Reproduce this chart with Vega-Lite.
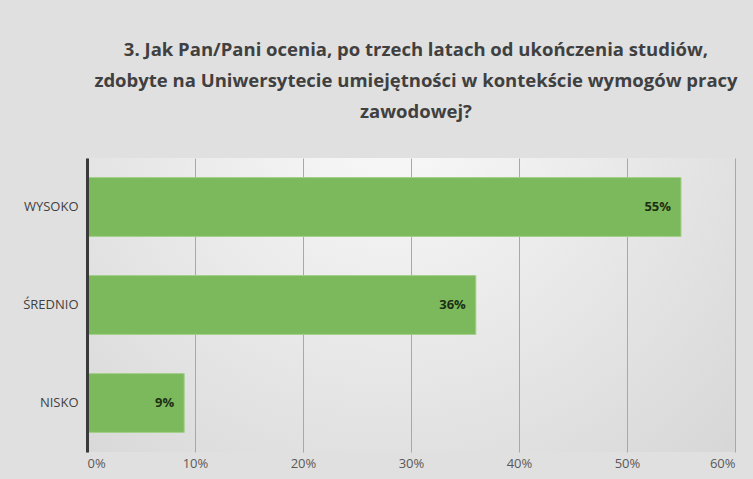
{
  "$schema": "https://vega.github.io/schema/vega-lite/v6.json",
  "width": 648,
  "height": 294,
  "autosize": {"type": "none"},
  "padding": {"left": 87, "top": 158, "right": 18, "bottom": 27},
  "background": "#e0e0e0",
  "config": {
    "view": {
      "stroke": null,
      "fill": {
        "gradient": "radial",
        "x1": 0.47, "y1": 0.2, "r1": 0,
        "x2": 0.47, "y2": 0.2, "r2": 0.85,
        "stops": [
          {"offset": 0, "color": "#fafafa"},
          {"offset": 1, "color": "#d2d2d2"}
        ]
      }
    }
  },
  "title": {
    "text": [
      "3. Jak Pan/Pani ocenia, po trzech latach od ukończenia studiów,",
      "zdobyte na Uniwersytecie umiejętności w kontekście wymogów pracy",
      "zawodowej?"
    ],
    "font": "Open Sans",
    "fontSize": 18.5,
    "fontWeight": "bold",
    "color": "#404040",
    "lineHeight": 31,
    "anchor": "middle",
    "frame": "group",
    "offset": 37,
    "dx": 5
  },
  "data": {
    "values": [
      {"kategoria": "WYSOKO", "wartosc": 0.55},
      {"kategoria": "ŚREDNIO", "wartosc": 0.36},
      {"kategoria": "NISKO", "wartosc": 0.09}
    ]
  },
  "encoding": {
    "y": {
      "field": "kategoria",
      "type": "nominal",
      "sort": null,
      "scale": {"paddingInner": 0.4, "paddingOuter": 0.2},
      "axis": {
        "title": null,
        "domain": true,
        "domainColor": "#3a3a3a",
        "domainWidth": 3,
        "ticks": false,
        "labelPadding": 9,
        "labelFont": "Open Sans",
        "labelFontSize": 13,
        "labelColor": "#404040",
        "zindex": 1
      }
    },
    "x": {
      "field": "wartosc",
      "type": "quantitative",
      "scale": {"domain": [0, 0.6]},
      "axis": {
        "values": [0, 0.1, 0.2, 0.3, 0.4, 0.5, 0.6],
        "format": ".0%",
        "title": null,
        "domain": false,
        "ticks": false,
        "grid": true,
        "gridColor": "#a8a8a8",
        "gridWidth": 1,
        "labelPadding": 5,
        "labelFont": "Open Sans",
        "labelFontSize": 13,
        "labelColor": "#595959"
      }
    }
  },
  "layer": [
    {
      "mark": {"type": "bar", "color": "#7cb85c", "stroke": "#a2d087", "strokeWidth": 1}
    },
    {
      "mark": {
        "type": "text",
        "align": "right",
        "dx": -10,
        "font": "Open Sans",
        "fontSize": 13,
        "fontWeight": "bold",
        "color": "#1c2f14"
      },
      "encoding": {
        "text": {"field": "wartosc", "type": "quantitative", "format": ".0%"}
      }
    }
  ]
}
